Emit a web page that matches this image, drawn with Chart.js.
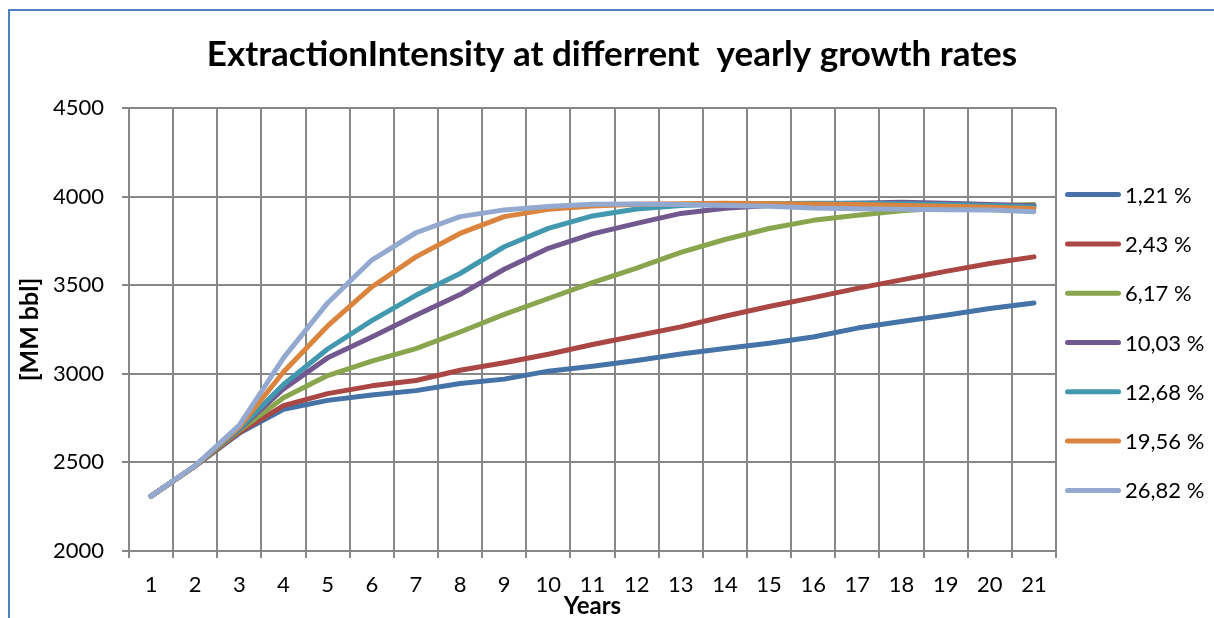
<!DOCTYPE html>
<html>
<head>
<meta charset="utf-8">
<title>ExtractionIntensity</title>
<script src="https://cdn.jsdelivr.net/npm/chart.js@4.4.1/dist/chart.umd.min.js"></script>
<style>
    html, body { margin: 0; padding: 0; background: #fff; overflow: hidden; }
    #frame {
        position: absolute; left: 8px; top: 9px; width: 1300px; height: 700px;
        border-left: 2px solid #4f81bd; border-top: 2px solid #4f81bd;
    }
    #wrap { position: absolute; left: 0; top: 0; width: 1214px; height: 618px; }
</style>
</head>
<body>
<div id="frame"></div>
<div id="wrap"><canvas id="extractionChart"></canvas></div>
<script>
// Chart data
const years = ['1', '2', '3', '4', '5', '6', '7', '8', '9', '10', '11',
    '12', '13', '14', '15', '16', '17', '18', '19', '20', '21'];

const rateLabels = ['1,21 %', '2,43 %', '6,17 %', '10,03 %', '12,68 %', '19,56 %', '26,82 %'];

const rate121 = [2310, 2480, 2665, 2800, 2850, 2880, 2905, 2945, 2970, 3015, 3043,
    3075, 3112, 3143, 3172, 3208, 3258, 3295, 3330, 3368, 3400];
const rate243 = [2310, 2480, 2670, 2820, 2888, 2932, 2962, 3020, 3062, 3110, 3165,
    3215, 3265, 3325, 3380, 3430, 3482, 3530, 3578, 3622, 3660];
const rate617 = [2310, 2480, 2680, 2865, 2990, 3072, 3142, 3236, 3335, 3425, 3515,
    3597, 3685, 3758, 3820, 3866, 3895, 3920, 3935, 3947, 3955];
const rate1003 = [2310, 2480, 2688, 2915, 3090, 3208, 3330, 3447, 3590, 3708, 3790,
    3849, 3905, 3934, 3950, 3958, 3963, 3968, 3962, 3955, 3948];
const rate1268 = [2310, 2480, 2692, 2940, 3140, 3300, 3443, 3566, 3717, 3821, 3891,
    3930, 3950, 3958, 3960, 3962, 3962, 3960, 3955, 3950, 3942];
const rate1956 = [2310, 2480, 2700, 3010, 3270, 3490, 3660, 3792, 3887, 3928, 3947,
    3957, 3960, 3962, 3960, 3958, 3955, 3950, 3945, 3940, 3932];
const rate2682 = [2310, 2482, 2710, 3090, 3400, 3642, 3796, 3887, 3925, 3944, 3957,
    3958, 3955, 3950, 3945, 3935, 3932, 3928, 3926, 3924, 3915];

const yTicks = [2000, 2500, 3000, 3500, 4000, 4500];

const seriesValues = [rate121, rate243, rate617, rate1003, rate1268, rate1956, rate2682];
const seriesColors = ['#4572a7', '#aa4643', '#89a54e', '#71588f', '#4198af', '#db843d', '#93a9cf'];

const gridColor = '#878787';
const fontFamily = 'Lato, "Open Sans", sans-serif';

// Legend drawn in its own layout box on the right
const sideLegend = {
    id: 'sideLegend',
    start(chart) {
        const box = {
            position: 'right', weight: 0, fullSize: false, options: {},
            left: 0, top: 0, right: 0, bottom: 0, width: 0, height: 0,
            isHorizontal() { return false; },
            update(maxWidth, maxHeight) {
                this.width = 158;
                this.height = maxHeight;
            },
            draw() {
                const ctx = chart.ctx;
                const mid = (this.top + this.bottom) / 2 + 13;
                chart.data.datasets.forEach((ds, i) => {
                    const y = mid + (i - 3) * 49.3;
                    ctx.save();
                    ctx.strokeStyle = ds.borderColor;
                    ctx.lineWidth = 5;
                    ctx.lineCap = 'round';
                    ctx.beginPath();
                    ctx.moveTo(this.left + 11.5, y);
                    ctx.lineTo(this.left + 62.5, y);
                    ctx.stroke();
                    ctx.fillStyle = '#000';
                    ctx.font = '22px ' + fontFamily;
                    ctx.textBaseline = 'middle';
                    ctx.textAlign = 'left';
                    ctx.fillText(ds.label, this.left + 69, y + 1);
                    ctx.restore();
                });
            }
        };
        Chart.layouts.addBox(chart, box);
    }
};

const ctx = document.getElementById('extractionChart');

new Chart(ctx, {
    type: 'line',
    data: {
        labels: years,
        datasets: seriesValues.map((values, i) => ({
            label: rateLabels[i],
            data: values,
            borderColor: seriesColors[i],
            backgroundColor: seriesColors[i],
            borderWidth: 5,
            pointRadius: 0,
            tension: 0,
            fill: false,
            borderCapStyle: 'round',
            borderJoinStyle: 'round',
            order: seriesValues.length - 1 - i
        }))
    },
    options: {
        responsive: true,
        maintainAspectRatio: false,
        animation: false,
        events: [],
        layout: { padding: { left: 10, right: 0, top: 0, bottom: 0 } },
        plugins: {
            legend: { display: false },
            tooltip: { enabled: false },
            title: {
                display: true,
                text: 'ExtractionIntensity at differrent  yearly growth rates',
                color: '#000',
                font: { family: fontFamily, size: 35, weight: 'bold', lineHeight: 1.2 },
                padding: { top: 34, bottom: 32 }
            }
        },
        scales: {
            x: {
                type: 'category',
                offset: true,
                grid: { offset: true, color: gridColor, lineWidth: 2, tickLength: 7, tickColor: gridColor },
                border: { color: gridColor, width: 2 },
                ticks: {
                    color: '#000',
                    font: { family: fontFamily, size: 22 },
                    padding: 14,
                    maxRotation: 0,
                    autoSkip: false
                },
                title: {
                    display: true,
                    text: 'Years',
                    color: '#000',
                    font: { family: fontFamily, size: 24, weight: 'bold', lineHeight: 1 },
                    padding: 0
                },
                afterFit(scale) { scale.height = 67; }
            },
            y: {
                min: 2000,
                max: 4500,
                grid: { color: gridColor, lineWidth: 2, tickLength: 7, tickColor: gridColor },
                border: { color: gridColor, width: 2 },
                ticks: {
                    color: '#000',
                    font: { family: fontFamily, size: 22 },
                    padding: 18,
                    stepSize: 500,
                    callback: value => String(value)
                },
                afterBuildTicks(scale) {
                    scale.ticks = yTicks.map(v => ({ value: v }));
                },
                title: {
                    display: true,
                    text: '[MM bbl]',
                    color: '#000',
                    font: { family: fontFamily, size: 25, weight: 'bold', lineHeight: 1.2 },
                    padding: { top: 5, bottom: 0 }
                },
                afterFit(scale) { scale.width = 119; }
            }
        }
    },
    plugins: [sideLegend]
});
</script>
</body>
</html>
